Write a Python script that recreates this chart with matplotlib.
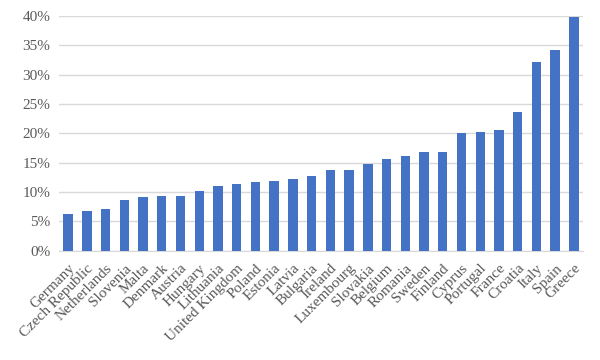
import matplotlib
matplotlib.use("Agg")
import matplotlib.pyplot as plt
from matplotlib.ticker import PercentFormatter

countries = ["Germany", "Czech Republic", "Netherlands", "Slovenia", "Malta", "Denmark",
             "Austria", "Hungary", "Lithuania", "United Kingdom", "Poland", "Estonia",
             "Latvia", "Bulgaria", "Ireland", "Luxembourg", "Slovakia", "Belgium",
             "Romania", "Sweden", "Finland", "Cyprus", "Portugal", "France", "Croatia",
             "Italy", "Spain", "Greece"]
values = [6.2, 6.7, 7.1, 8.7, 9.1, 9.25, 9.35, 10.15, 11.05, 11.3, 11.65, 11.9,
          12.2, 12.7, 13.7, 13.8, 14.8, 15.7, 16.1, 16.75, 16.9, 20.1, 20.2, 20.6,
          23.6, 32.2, 34.2, 39.8]

BAR_COLOR = "#4472C4"
TEXT_COLOR = "#595959"
GRID_COLOR = "#d9d9d9"


def main():
    plt.rcParams["font.family"] = ["Liberation Serif", "DejaVu Serif"]
    fig = plt.figure(figsize=(6, 3.6), dpi=100)
    ax = fig.add_axes([0.098, 0.304, 0.874, 0.651])

    x = range(len(countries))
    ax.bar(x, values, width=0.5, color=BAR_COLOR, zorder=3)

    ax.set_ylim(0, 40)
    ax.set_yticks(range(0, 41, 5))
    ax.yaxis.set_major_formatter(PercentFormatter(decimals=0))
    ax.set_xlim(-0.5, len(countries) - 0.5)
    ax.set_xticks(list(x))
    ax.set_xticklabels(countries, rotation=45, ha="right", rotation_mode="anchor")

    ax.grid(axis="y", color=GRID_COLOR, linewidth=1, zorder=0)
    for side in ("top", "right", "left"):
        ax.spines[side].set_visible(False)
    ax.spines["bottom"].set_color(GRID_COLOR)
    ax.tick_params(axis="both", length=0, labelsize=11, labelcolor=TEXT_COLOR)
    ax.tick_params(axis="y", pad=6)
    ax.tick_params(axis="x", pad=8)

    fig.savefig("out.png", dpi=100)


if __name__ == "__main__":
    main()
